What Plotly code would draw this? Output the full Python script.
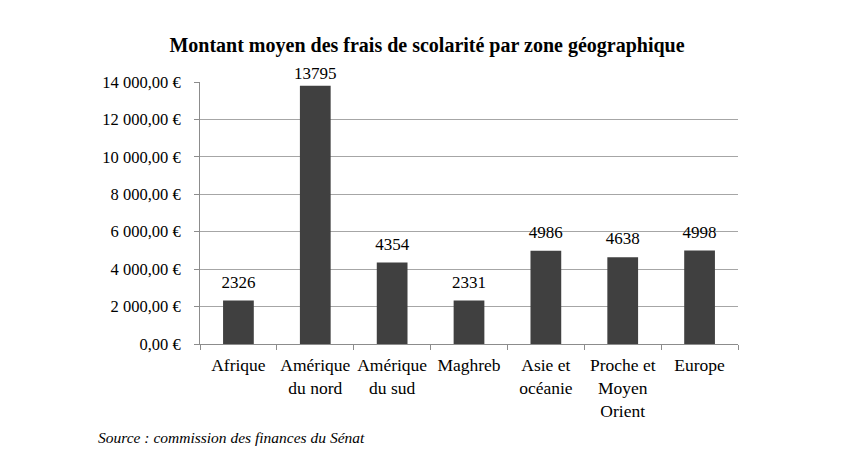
import plotly.graph_objects as go

categories = ["Afrique", "Amérique<br>du nord", "Amérique<br>du sud", "Maghreb",
              "Asie et<br>océanie", "Proche et<br>Moyen<br>Orient", "Europe"]
values = [2326, 13795, 4354, 2331, 4986, 4638, 4998]
tick_values = [0, 2000, 4000, 6000, 8000, 10000, 12000, 14000]
tick_labels = ["0,00 €", "2 000,00 €", "4 000,00 €", "6 000,00 €", "8 000,00 €",
               "10 000,00 €", "12 000,00 €", "14 000,00 €"]

FONT = "Liberation Serif"
Y_MAX = 14000

# label spacing: tighter where the label would hit the top of the plot area
label_pad = [2 if v > 0.95 * Y_MAX else 12 for v in values]

fig = go.Figure()
fig.add_trace(go.Bar(
    x=categories, y=values,
    marker=dict(color="#404040", line=dict(width=0)),
))
fig.add_trace(go.Scatter(
    x=categories, y=values, mode="markers+text",
    marker=dict(size=label_pad, opacity=0),
    text=[str(v) for v in values], textposition="top center",
    textfont=dict(family=FONT, size=17, color="black"),
    cliponaxis=False, hoverinfo="skip",
))

fig.update_layout(
    width=853, height=469,
    margin=dict(l=192, r=123, t=74, b=133),
    paper_bgcolor="white", plot_bgcolor="white",
    bargap=0.6,
    showlegend=False,
    title=dict(text="<b>Montant moyen des frais de scolarité par zone géographique</b>",
               x=(427 - 200) / 538, xref="paper", xanchor="center",
               y=1 - 37 / 469, yanchor="middle",
               font=dict(family=FONT, size=20, color="black")),
    font=dict(family=FONT, size=16, color="black"),
)
fig.update_xaxes(
    showline=True, linecolor="#8c8c8c", linewidth=1,
    ticks="outside", ticklen=5, tickcolor="#8c8c8c", tickson="boundaries",
    tickfont=dict(family=FONT, size=17.5, color="black"),
    tickangle=0,
    ticklabelstandoff=5,
    showgrid=False,
)
fig.update_yaxes(
    range=[0, Y_MAX], tickvals=tick_values, ticktext=tick_labels,
    showline=True, linecolor="#8c8c8c", linewidth=1,
    ticks="outside", ticklen=5, tickcolor="#8c8c8c",
    showgrid=True, gridcolor="#a6a6a6", gridwidth=1,
    tickfont=dict(family=FONT, size=16.5, color="black"),
    ticklabelstandoff=10,
    zeroline=False,
)
fig.add_annotation(
    text="<i>Source : commission des finances du Sénat</i>",
    xref="paper", yref="paper", x=(96 - 200) / 538, y=-(437 - 344) / 262,
    xanchor="left", yanchor="middle", showarrow=False,
    font=dict(family=FONT, size=15.5, color="black"),
)
fig.write_html("out.html")
